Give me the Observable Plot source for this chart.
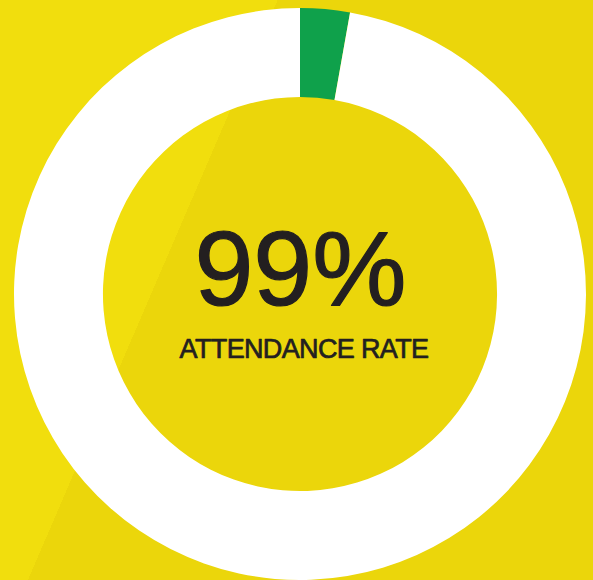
<!DOCTYPE html>
<html>
<head>
<meta charset="utf-8">
<script src="https://cdn.jsdelivr.net/npm/d3@7"></script>
<script src="https://cdn.jsdelivr.net/npm/@observablehq/plot@0.6"></script>
<style>
  html, body { margin: 0; padding: 0; }
  body {
    width: 593px; height: 580px; overflow: hidden;
    background: linear-gradient(113.3deg, #f1de0d 0%, #f1de0d 32.95%, #ebd60b 32.95%, #ebd60b 100%);
  }
  #chart svg { display: block; }
  #chart svg g[font-size="27"] { letter-spacing: -0.65px; }
</style>
</head>
<body>
<div id="chart"></div>
<script>
// ---- data ----
const categories = ["Highlighted", "Remaining"];
const shares = [2.8, 97.2];
const sliceColors = ["#0fa14b", "#ffffff"];
const headline = ["99%"];
const caption = ["ATTENDANCE RATE"];

// ---- layout constants (in scale units; outer radius = 1) ----
const R_OUTER = 1;
const R_INNER = 0.689;

const slices = categories.map((c, i) => ({category: c, value: shares[i]}));
const colorOf = d3.scaleOrdinal(categories, sliceColors);

function donut(index, scales) {
  const cx = scales.x(0), cy = scales.y(0);
  const ro = Math.abs(scales.x(R_OUTER) - cx);
  const ri = Math.abs(scales.x(R_INNER) - cx);
  const arcs = d3.pie().sort(null).value(d => d.value)(slices);
  const g = d3.create("svg:g").attr("transform", `translate(${cx},${cy})`);
  g.selectAll("path")
    .data(arcs)
    .join("path")
    .attr("d", d3.arc().innerRadius(ri).outerRadius(ro))
    .attr("fill", d => colorOf(d.data.category));
  return g.node();
}

const W = 593, H = 580;
const plot = Plot.plot({
  width: W,
  height: H,
  margin: 0,
  style: {background: "none", overflow: "visible"},
  x: {domain: [-300 / 286, 293 / 286], axis: null},
  y: {domain: [-1, 294 / 286], axis: null},
  marks: [
    donut,
    Plot.text(headline, {
      x: 0, y: 0, text: d => d, dy: 10.5, lineAnchor: "bottom",
      fontSize: 106, fill: "#231f20",
      stroke: "#231f20", strokeWidth: 1.2,
      fontFamily: "'Liberation Sans', Arial, sans-serif"
    }),
    Plot.text(caption, {
      x: 0, y: 0, text: d => d, dx: 3.5, dy: 63.7, lineAnchor: "bottom",
      fontSize: 27, fill: "#231f20",
      stroke: "#231f20", strokeWidth: 0.7,
      fontFamily: "'Liberation Sans', Arial, sans-serif"
    })
  ]
});
document.getElementById("chart").appendChild(plot);
</script>
</body>
</html>
